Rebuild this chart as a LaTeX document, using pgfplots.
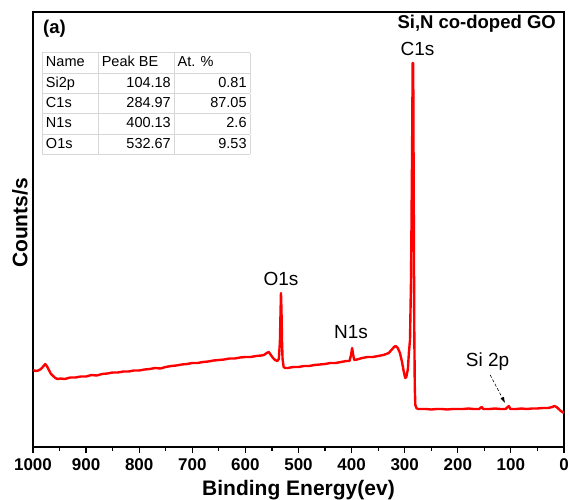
\documentclass[border=0pt]{standalone}
\usepackage{fontspec}
\setmainfont{Liberation Sans}
\usepackage{pgfplots}
\pgfplotsset{compat=1.18}
\usepackage{array,colortbl}
\usetikzlibrary{arrows.meta}
\definecolor{tblgrey}{RGB}{215,215,215}
\newcolumntype{L}[1]{>{\raggedright\arraybackslash}p{#1}}
\newcolumntype{R}[1]{>{\raggedleft\arraybackslash}p{#1}}

\begin{document}
\begin{tikzpicture}
\useasboundingbox (0,0) rectangle (570pt,499pt);
\begin{axis}[
    at={(33pt,52pt)}, anchor=south west,
    scale only axis, width=531pt, height=435pt,
    xmin=0, xmax=1000, ymin=0, ymax=435,
    x dir=reverse,
    xtick={0,100,...,1000}, minor x tick num=1,
    ytick=\empty,
    xtick pos=bottom, tick align=outside,
    major tick length=6pt, minor tick length=3.5pt,
    every tick/.style={black, line width=1.2pt},
    axis line style={black, line width=1.8pt},
    /pgf/number format/assume math mode=true,
    /pgf/number format/1000 sep={},
    xticklabel style={font=\bfseries\fontsize{17}{17}\selectfont, yshift=-2pt},
    xlabel={Binding Energy(ev)},
    xlabel style={font=\bfseries\fontsize{21}{21}\selectfont, at={(axis description cs:0.5,0)}, anchor=center, yshift=-43pt},
    clip=false,
]
\addplot[red, line width=2.4pt, line join=round] coordinates {
(1000,77) (995,76) (990,76.5) (985,78) (980,81) (977,83) (974,81) (970,77) (966,73)
(962,71) (958,69) (954,68) (948,68.5) (940,68) (930,69.5) (920,69.5) (910,70.5)
(900,70.5) (890,72) (880,71.5) (870,73) (860,73.5) (850,74.5) (840,74.5) (830,75.5)
(820,75.5) (810,76.5) (800,76.5) (790,77.5) (780,78) (770,79) (760,78.5) (750,80)
(740,81) (730,81.5) (720,82.5) (710,83) (700,84) (690,84) (680,85) (670,85.5)
(660,86.5) (650,87) (640,87.5) (630,88.5) (620,88.5) (610,89.5) (600,90) (590,90)
(580,91) (570,91.5) (565,92) (560,94) (556,95) (552,92) (548,89) (544,87) (540,86)
(537,88) (535,105) (534,130) (533,154) (532,135) (531,105) (530,88) (528,80) (525,79)
(520,79) (510,80) (500,80) (490,81) (480,81) (470,82) (460,82.5) (450,83) (440,84)
(430,84) (420,85) (410,86) (404,86) (401,92) (399,99) (397,92) (395,87) (390,87.5)
(380,89) (370,90) (360,90) (350,91) (340,92) (330,94) (325,97) (320,100) (317,101)
(313,99) (309,94) (305,85) (302,76) (299,69) (297,70) (294,78) (292,95) (290,107)
(288,170) (286,300) (285,384) (284,384) (283,250) (282,120) (281,60) (280,42) (278,39)
(275,38) (260,38) (250,37.5) (240,38) (230,38) (220,37.5) (210,38) (200,38) (190,38)
(180,38.5) (170,38) (160,38) (155,40) (152,38) (140,38) (130,38.5) (120,38) (110,38)
(106,40) (104,41) (101,38) (90,38) (80,38.5) (70,38) (60,38.5) (50,38.5) (40,39)
(30,39) (22,40) (18,41) (14,40) (10,38) (6,36) (3,35) (0,34)
};
% y axis label
\node[rotate=90, anchor=center, inner sep=0, font=\bfseries\fontsize{21}{21}\selectfont] at ([xshift=-13pt]axis description cs:0,0.515) {Counts/s};
% peak labels
\node[anchor=base, font=\fontsize{19}{19}\selectfont, inner sep=0] at (axis cs:276,391) {C1s};
\node[anchor=base, font=\fontsize{19}{19}\selectfont, inner sep=0] at (axis cs:533,162) {O1s};
\node[anchor=base, font=\fontsize{19}{19}\selectfont, inner sep=0] at (axis cs:401,109) {N1s};
\node[anchor=base, font=\fontsize{19}{19}\selectfont, inner sep=0] at (axis cs:144,81) {Si 2p};
\draw[densely dashed, line width=0.6pt, -{Latex[length=6pt,width=4pt]}] (axis cs:139,72) -- (axis cs:111,44);
% title and panel letter
\node[anchor=north east, inner sep=0, font=\bfseries\fontsize{18.5}{18.5}\selectfont] at ([xshift=-8pt,yshift=-3pt]rel axis cs:1,1) {Si,N co-doped GO};
\node[anchor=north west, inner sep=0, font=\bfseries\fontsize{18.5}{18.5}\selectfont] at ([xshift=10pt,yshift=-8pt]rel axis cs:0,1) {(a)};
% inset table
\node[anchor=north west, inner sep=0] at ([xshift=9pt,yshift=-40pt]rel axis cs:0,1) {%
  \fontsize{14.5}{19.6}\selectfont
  \setlength{\tabcolsep}{3pt}\setlength{\arrayrulewidth}{0.8pt}\arrayrulecolor{tblgrey}%
  \begin{tabular}{|L{49pt}|R{69pt}|R{69pt}|}
  \hline
  Name & \multicolumn{1}{L{69pt}|}{Peak BE} & \multicolumn{1}{L{69pt}|}{At. \%} \\ \hline
  Si2p & 104.18 & 0.81 \\ \hline
  C1s  & 284.97 & 87.05 \\ \hline
  N1s  & 400.13 & 2.6 \\ \hline
  O1s  & 532.67 & 9.53 \\ \hline
  \end{tabular}};
\end{axis}
\end{tikzpicture}
\end{document}
